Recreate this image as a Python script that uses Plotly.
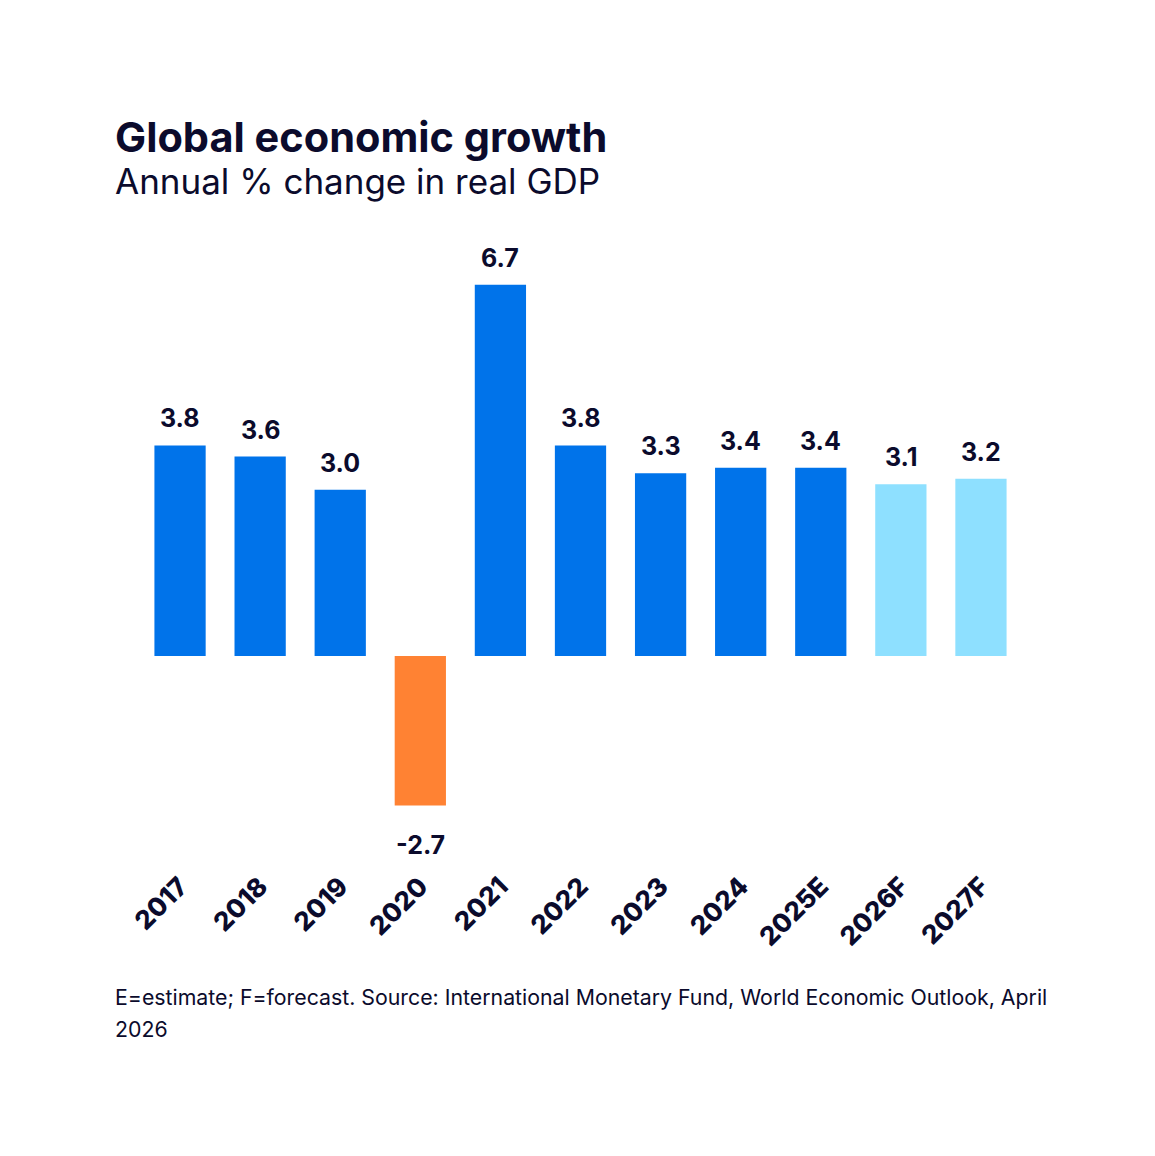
import plotly.graph_objects as go

categories = ["2017", "2018", "2019", "2020", "2021", "2022", "2023", "2024", "2025E", "2026F", "2027F"]
values = [3.8, 3.6, 3.0, -2.7, 6.7, 3.8, 3.3, 3.4, 3.4, 3.1, 3.2]
labels = ["3.8", "3.6", "3.0", "-2.7", "6.7", "3.8", "3.3", "3.4", "3.4", "3.1", "3.2"]
kinds = ["actual"] * 3 + ["negative"] + ["actual"] * 5 + ["forecast"] * 2

color_map = {"actual": "#0073EA", "negative": "#FF8233", "forecast": "#8EE0FF"}
colors = [color_map[k] for k in kinds]

W, H = 1155, 1156
L, R, T, B = 139.5, 1021, 250, 865
TEXT = "#0B0B2C"
FONT = "Inter"

def px(xp):
    return (xp - L) / (R - L)

def py(yp):
    return (B - yp) / (B - T)

fig = go.Figure()
fig.add_trace(go.Bar(x=categories, y=values, marker=dict(color=colors, line=dict(width=0)),
                     hoverinfo="skip"))

# category axis: position annotations by category index
for i, (v, t) in enumerate(zip(values, labels)):
    fig.add_annotation(x=i, y=v, text=t, showarrow=False,
                       yanchor="bottom" if v >= 0 else "top",
                       yshift=10 if v >= 0 else -22,
                       font=dict(family=FONT, size=25, color=TEXT, weight=700))

fig.add_annotation(xref="paper", yref="paper", x=px(112), y=py(110), xanchor="left", yanchor="top",
                   text="Global economic growth", showarrow=False,
                   font=dict(family=FONT, size=41.5, color=TEXT, weight=700))
fig.add_annotation(xref="paper", yref="paper", x=px(112), y=py(158), xanchor="left", yanchor="top",
                   text="Annual % change in real GDP", showarrow=False,
                   font=dict(family=FONT, size=35, color=TEXT))
fig.add_annotation(xref="paper", yref="paper", x=px(112), y=py(982), xanchor="left", yanchor="top",
                   align="left",
                   text="E=estimate; F=forecast. Source: International Monetary Fund, World Economic Outlook, April",
                   showarrow=False,
                   font=dict(family=FONT, size=21.3, color=TEXT))
fig.add_annotation(xref="paper", yref="paper", x=px(112), y=py(1014), xanchor="left", yanchor="top",
                   align="left", text="2026", showarrow=False,
                   font=dict(family=FONT, size=21.3, color=TEXT))

fig.update_layout(
    width=W, height=H,
    margin=dict(l=L, r=W - R, t=T, b=H - B, pad=0),
    paper_bgcolor="white", plot_bgcolor="white",
    bargap=0.36, showlegend=False,
    xaxis=dict(type="category", range=[-0.5, len(categories) - 0.5], tickangle=-45,
               showgrid=False, zeroline=False, showline=False, ticks="",
               tickfont=dict(family=FONT, size=26, color=TEXT, weight=800)),
    yaxis=dict(range=[-(B - 656) / 55.4, (656 - T) / 55.4], visible=False, showgrid=False, zeroline=False),
)

fig.write_html("out.html")
